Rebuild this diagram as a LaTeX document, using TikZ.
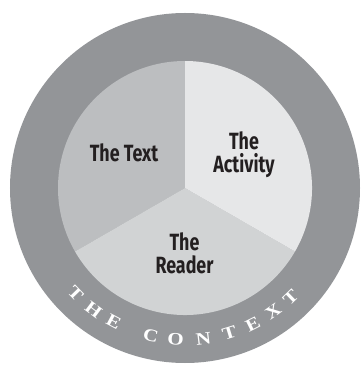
\documentclass[tikz,border=0pt]{standalone}
\usepackage{fontspec}
\usepackage{tikz}
\usetikzlibrary{positioning}
\newfontfamily\labelfont[FakeStretch=0.76]{Fira Sans}
\newfontfamily\ctxfont[FakeStretch=1.2]{Liberation Serif}
\definecolor{ringgray}{HTML}{939598}
\definecolor{textgray}{HTML}{BCBEC0}
\definecolor{readergray}{HTML}{D1D3D4}
\definecolor{activitygray}{HTML}{E6E7E8}
\definecolor{inkblack}{HTML}{231F20}

\begin{document}
\begin{tikzpicture}[
      x=1pt, y=1pt,
      sectorlabel/.style={align=center, inner sep=0pt, text=inkblack,
        font=\labelfont\bfseries\fontsize{23.5}{23}\selectfont},
      ctxletter/.style={inner sep=0pt, text=white,
        font=\ctxfont\bfseries\fontsize{17.5}{17.5}\selectfont}
    ]
    \useasboundingbox (-185,-178) rectangle (175,188);
    % Context ring
    \coordinate (centre) at (0,0);
    \fill[ringgray] (centre) circle (175);

    % Sectors
    \fill[textgray] (centre) -- (90:127) arc (90:210:127) -- cycle;
    \fill[readergray] (centre) -- (210:127) arc (210:330:127) -- cycle;
    \fill[activitygray] (centre) -- (330:127) arc (330:450:127) -- cycle;

    % Labels (base = last line)
    \node[sectorlabel, anchor=base] (text) at (-61,26) {The Text};
    \node[sectorlabel, anchor=base] (activity) at (59,15) {The\\Activity};
    \node[sectorlabel, anchor=base] (reader) at (-0.5,-85) {The\\Reader};

    % Curved context title
    \foreach \ch/\ang [count=\i] in {T/224,H/233,E/242,C/257,O/266.5,N/277,T/287,E/296.5,X/305.5,T/314}
      \node[ctxletter, rotate=\ang+90] (ctx\i) at (\ang:152) {\ch};
  \end{tikzpicture}
\end{document}
